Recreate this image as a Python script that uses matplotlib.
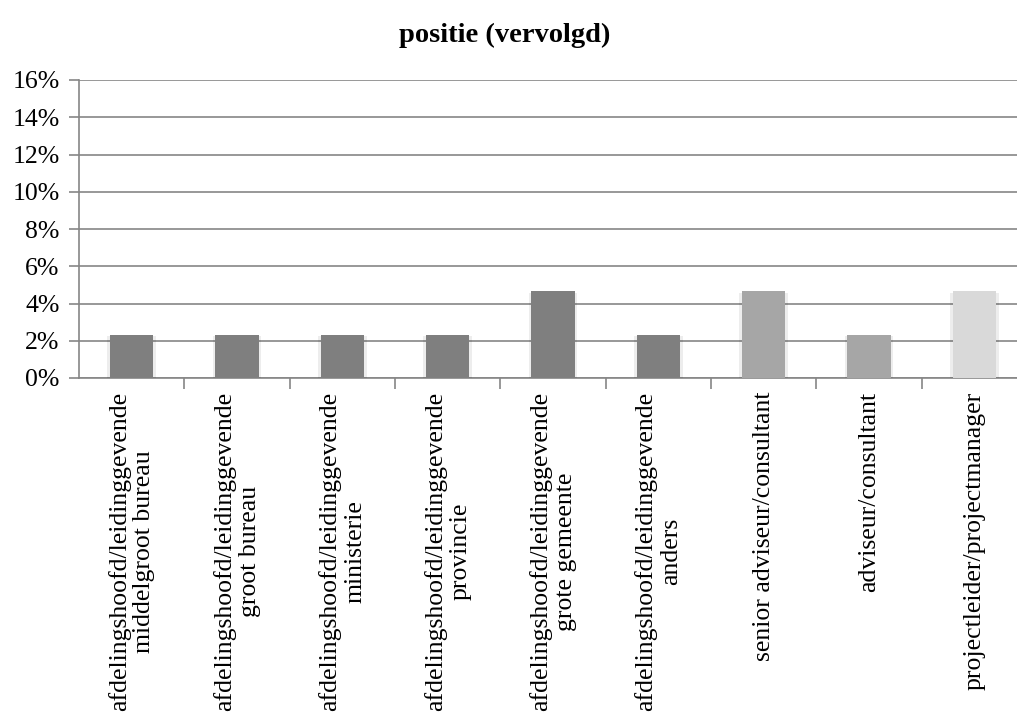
import matplotlib
matplotlib.use("Agg")
import matplotlib.pyplot as plt
import matplotlib.patheffects as pe
from matplotlib.ticker import FuncFormatter, MultipleLocator

categories = [
    "afdelingshoofd/leidinggevende\nmiddelgroot bureau",
    "afdelingshoofd/leidinggevende\ngroot bureau",
    "afdelingshoofd/leidinggevende\nministerie",
    "afdelingshoofd/leidinggevende\nprovincie",
    "afdelingshoofd/leidinggevende\ngrote gemeente",
    "afdelingshoofd/leidinggevende\nanders",
    "senior adviseur/consultant",
    "adviseur/consultant",
    "projectleider/projectmanager",
]
values = [2.33, 2.33, 2.33, 2.33, 4.65, 2.33, 4.65, 2.33, 4.65]
colors = ["#7f7f7f"] * 6 + ["#a6a6a6"] * 2 + ["#d9d9d9"]
title = "positie (vervolgd)"

W, H = 1017, 715
fig = plt.figure(figsize=(W / 100, H / 100), dpi=100)
left, right, top, bottom = 79, 1027, 80, 378
ax = fig.add_axes([left / W, (H - bottom) / H, (right - left) / W, (bottom - top) / H])

serif = ["Liberation Serif", "DejaVu Serif"]
x = list(range(len(categories)))
bars = ax.bar(x, values, width=0.41, color=colors, zorder=3)
for b in bars:
    b.set_path_effects([
        pe.SimplePatchShadow(offset=(2, -1), shadow_rgbFace="#000000", alpha=0.07),
        pe.SimplePatchShadow(offset=(-2, -1), shadow_rgbFace="#000000", alpha=0.07),
        pe.Normal()])

ax.set_xlim(-0.5, len(categories) - 0.5)
ax.set_ylim(0, 16)
ax.yaxis.set_major_locator(MultipleLocator(2))
ax.yaxis.set_major_formatter(FuncFormatter(lambda v, p: f"{v:.0f}%"))
ax.grid(axis="y", color="#868686", linewidth=1.2, zorder=0)
ax.set_axisbelow(True)

for s in ["top", "right"]:
    ax.spines[s].set_visible(False)
ax.spines["left"].set_color("#868686")
ax.spines["bottom"].set_color("#868686")
ax.spines["left"].set_linewidth(1.2)
ax.spines["bottom"].set_linewidth(1.2)

ax.set_xticks([i + 0.5 for i in range(len(categories) - 1)])
ax.set_xticklabels([])
ax.tick_params(axis="x", direction="out", length=8, color="#868686", width=1.2)
ax.tick_params(axis="y", direction="out", length=7, color="#868686", width=1.2, pad=7)
for lab in ax.get_yticklabels():
    lab.set_fontfamily(serif)
    lab.set_fontsize(18.5)

for i, c in enumerate(categories):
    ax.text(i, -0.75, c, rotation=90, ha="center", va="top", multialignment="center",
            fontsize=18.5, family=serif, transform=ax.transData, linespacing=1.15)

fig.text(505 / W, 1 - 35 / H, title, ha="center", va="center", fontsize=20.5,
         fontweight="bold", family=serif)

fig.savefig("out.png", dpi=100)
